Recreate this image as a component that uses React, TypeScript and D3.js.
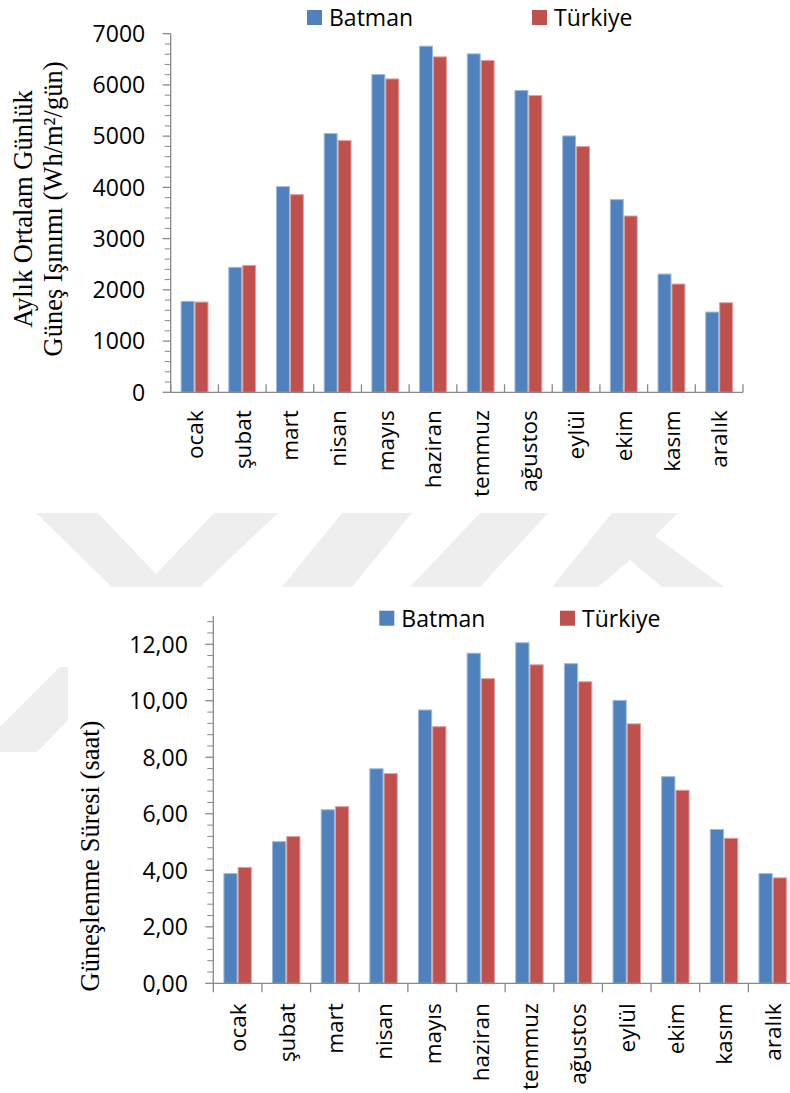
import React from "react";
import * as d3 from "d3";

// Month names on the category axis
const months = ["ocak", "şubat", "mart", "nisan", "mayıs", "haziran", "temmuz", "ağustos", "eylül", "ekim", "kasım", "aralık"];
const seriesNames = ["Batman", "Türkiye"];
const seriesColors = ["#4F81BD", "#C0504D"];
const seriesStrokes = ["#9DB9DE", "#E0A09E"];

// Monthly mean daily solar radiation (Wh/m²/gün)
const radiationBatman = [1784, 2448, 4024, 5060, 6212, 6766, 6616, 5900, 5014, 3770, 2318, 1576];
const radiationTurkiye = [1771, 2487, 3868, 4923, 6127, 6557, 6486, 5802, 4806, 3451, 2123, 1758];
const radiationTicks = [0, 1000, 2000, 3000, 4000, 5000, 6000, 7000];

// Monthly mean sunshine duration (saat)
const sunshineBatman = [3.9, 5.03, 6.16, 7.61, 9.69, 11.7, 12.07, 11.33, 10.03, 7.33, 5.46, 3.9];
const sunshineTurkiye = [4.12, 5.21, 6.27, 7.44, 9.1, 10.8, 11.29, 10.69, 9.2, 6.85, 5.15, 3.75];
const sunshineTicks = [0, 2, 4, 6, 8, 10, 12];

const trLocale = d3.formatLocale({ decimal: ",", thousands: ".", grouping: [3], currency: ["", " ₺"] });
const fmtComma2 = trLocale.format(".2f");

const SANS = "'Open Sans', 'Noto Sans', sans-serif";
const SERIF = "'Liberation Serif', 'DejaVu Serif', serif";
const AXIS = "#898989";

type ChartProps = {
  series: number[][];
  xRange: [number, number];
  yRange: [number, number];
  yMax: number;
  majorTicks: number[];
  minorStep: number;
  fmt: (v: number) => string;
  ticksInside: boolean;
  labelGap: number;
  legendY: number;
  legendX: [number, number];
  titleLines: { text: string; x: number }[];
  titleY: number;
};

function BarChart(p: ChartProps) {
  const x0 = d3.scaleBand<string>().domain(months).range(p.xRange).paddingInner(0.416).paddingOuter(0.208);
  const x1 = d3.scaleBand<number>().domain(d3.range(p.series.length)).range([0, x0.bandwidth()]);
  const y = d3.scaleLinear().domain([0, p.yMax]).range(p.yRange);
  const axisX = p.xRange[0];
  const axisY = p.yRange[0];
  const step = x0.step();
  const minor = d3.range(0, p.yMax + 1e-9, p.minorStep).filter((v) => !p.majorTicks.some((m) => Math.abs(m - v) < 1e-6));
  const boundaries = d3.range(0, months.length + 1).map((i) => axisX + i * step);

  return (
    <g>
      {/* bars */}
      {months.map((m, i) => (
        <g key={m} transform={`translate(${x0(m)},0)`}>
          {p.series.map((s, k) => (
            <rect
              key={k}
              x={x1(k)! + 0.5}
              y={y(s[i]) + 0.5}
              width={x1.bandwidth() - 1}
              height={axisY - y(s[i]) - 0.5}
              fill={seriesColors[k]}
              stroke={seriesStrokes[k]}
              strokeWidth={1}
            />
          ))}
        </g>
      ))}

      {/* value axis */}
      <line x1={axisX} x2={axisX} y1={y(p.yMax)} y2={axisY} stroke={AXIS} strokeWidth={1.3} />
      {p.majorTicks.map((t) => (
        <g key={t}>
          <line x1={axisX - 8} x2={axisX} y1={y(t)} y2={y(t)} stroke={AXIS} strokeWidth={1.3} />
          <text x={axisX - 25.5} y={y(t)} dy="0.36em" textAnchor="end" fontFamily={SANS} fontSize={23} fill="#000">
            {p.fmt(t)}
          </text>
        </g>
      ))}
      {minor.map((t) => (
        <line key={t} x1={axisX - 6} x2={axisX} y1={y(t)} y2={y(t)} stroke={AXIS} strokeWidth={1} />
      ))}

      {/* category axis */}
      <line x1={axisX} x2={p.xRange[1]} y1={axisY} y2={axisY} stroke={AXIS} strokeWidth={1.3} />
      {boundaries.map((bx, i) => (
        <line
          key={i}
          x1={bx}
          x2={bx}
          y1={axisY}
          y2={p.ticksInside ? axisY - 8 : axisY + 9}
          stroke={AXIS}
          strokeWidth={1.3}
        />
      ))}
      {months.map((m) => (
        <text
          key={m}
          transform={`translate(${x0(m)! + x0.bandwidth() / 2},${axisY + p.labelGap}) rotate(-90)`}
          dy="0.37em"
          textAnchor="end"
          fontFamily={SANS}
          fontSize={22.5}
          fill="#000"
        >
          {m}
        </text>
      ))}

      {/* legend */}
      {seriesNames.map((n, k) => (
        <g key={n}>
          <rect x={p.legendX[k]} y={p.legendY} width={15} height={15} fill={seriesColors[k]} />
          <text x={p.legendX[k] + 22} y={p.legendY + 16.3} fontFamily={SANS} fontSize={23} fill="#000">
            {n}
          </text>
        </g>
      ))}

      {/* axis title */}
      {p.titleLines.map((l) => (
        <text
          key={l.text}
          transform={`translate(${l.x},${p.titleY}) rotate(-90)`}
          textAnchor="middle"
          fontFamily={SERIF}
          fontSize={26.5}
          fill="#000"
        >
          {l.text}
        </text>
      ))}
    </g>
  );
}

// Faint background emblem shapes
const emblem: [number, number][][] = [
  [[36, 513], [98, 513], [156, 574], [214, 513], [278, 513], [200, 587], [112, 587]],
  [[342, 513], [412, 513], [352, 587], [282, 587]],
  [[480, 513], [548, 513], [480, 587], [410, 587]],
  [[612, 513], [678, 513], [655, 536], [724, 587], [662, 587], [630, 560], [598, 587], [552, 587]],
  [[60, 667], [68, 667], [68, 720], [37, 752], [0, 752], [0, 727]],
];

export default function App() {
  return (
    <svg
      width={790}
      height={1093}
      viewBox="0 0 790 1093"
      style={{ position: "absolute", left: 0, top: 0, background: "#fff" }}
    >
      <rect width={790} height={1093} fill="#fff" />
      {emblem.map((pts, i) => (
        <polygon key={i} points={pts.map((q) => q.join(",")).join(" ")} fill="#eeeeee" />
      ))}
      <BarChart
        series={[radiationBatman, radiationTurkiye]}
        xRange={[170.7, 743]}
        yRange={[392.3, 33.7]}
        yMax={7000}
        majorTicks={radiationTicks}
        minorStep={200}
        fmt={(v) => String(v)}
        ticksInside={true}
        labelGap={18}
        legendY={10}
        legendX={[307, 532]}
        titleLines={[
          { text: "Aylık Ortalam Günlük", x: 31.5 },
          { text: "Güneş Işınımı (Wh/m²/gün)", x: 62 },
        ]}
        titleY={209}
      />
      <BarChart
        series={[sunshineBatman, sunshineTurkiye]}
        xRange={[213.3, 797]}
        yRange={[983.3, 616]}
        yMax={13}
        majorTicks={sunshineTicks}
        minorStep={0.4}
        fmt={fmtComma2}
        ticksInside={false}
        labelGap={20}
        legendY={610.7}
        legendX={[379.3, 560]}
        titleLines={[{ text: "Güneşlenme Süresi (saat)", x: 98.5 }]}
        titleY={856}
      />
    </svg>
  );
}
